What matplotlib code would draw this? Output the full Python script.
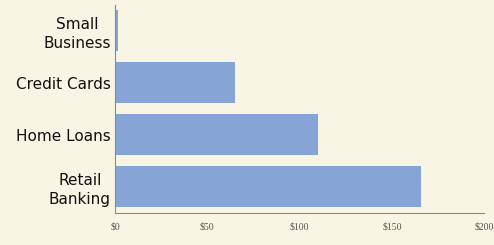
import matplotlib
matplotlib.use("Agg")
import matplotlib.pyplot as plt

categories = ["Small\nBusiness", "Credit Cards", "Home Loans", "Retail\nBanking"]
values = [1.5, 65, 110, 166]
xticks = [0, 50, 100, 150, 200]
xtick_labels = ["$0", "$50", "$100", "$150", "$200"]

bg = "#f8f5e4"
fig = plt.figure(figsize=(4.94, 2.45), dpi=100, facecolor=bg)
ax = fig.add_axes([0.233, 0.131, 0.747, 0.849], facecolor=bg)

ypos = list(range(len(categories)))
ax.barh(ypos, values, height=0.79, color="#86a5d6", edgecolor="none")
ax.set_ylim(3.5, -0.5)
ax.set_xlim(0, 200)
ax.set_yticks(ypos)
ax.set_yticklabels(categories, fontsize=11, color="#111111", linespacing=1.3,
                   ha="right", multialignment="center")
ax.set_xticks(xticks)
ax.set_xticklabels(xtick_labels, fontsize=7, color="#555555", family="Liberation Serif")
ax.tick_params(axis="both", length=0)
ax.tick_params(axis="x", pad=7)
ax.tick_params(axis="y", pad=3)
for s in ["top", "right"]:
    ax.spines[s].set_visible(False)
ax.spines["left"].set_color("#888888")
ax.spines["bottom"].set_color("#888888")
ax.spines["left"].set_linewidth(0.8)
ax.spines["bottom"].set_linewidth(0.8)

fig.savefig("out.png", dpi=100, facecolor=bg)
